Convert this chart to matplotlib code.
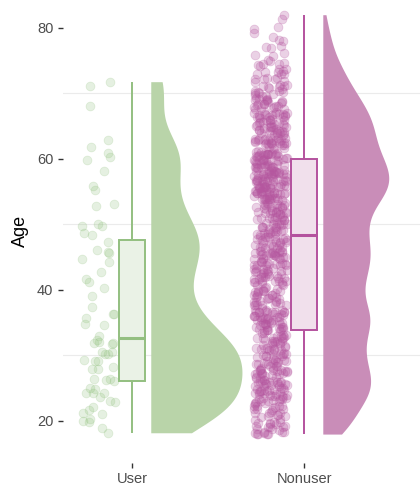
import numpy as np
import matplotlib
matplotlib.use("Agg")
import matplotlib.pyplot as plt

plt.rcParams['font.family'] = ['Liberation Sans', 'DejaVu Sans']

# ---- data -------------------------------------------------------------
groups = ["User", "Nonuser"]

user_age = [
    71.8, 71.2, 68.1, 62.9, 61.8, 60.9, 59.8, 60.3, 58.2, 55.9,
    55.2, 53.2, 52.8, 50.0, 49.8, 49.7, 48.7, 48.4, 47.4, 45.8,
    46.1, 45.7, 44.7, 44.2, 42.7, 41.7, 41.2, 40.3, 39.1, 37.4,
    36.4, 36.4, 35.7, 34.7, 34.8, 32.9, 31.8, 32.1, 32.3, 31.9,
    30.6, 30.2, 29.3, 29.2, 29.1, 30.6, 28.0, 28.2, 26.4, 26.2,
    26.1, 25.1, 24.9, 24.2, 24.2, 23.6, 23.1, 22.9, 22.1, 21.7,
    21.1, 21.2, 20.3, 19.8, 20.0, 18.2, 18.9,
    28.0, 30.2, 24.2, 26.4, 31.9,
]

nonuser_ages = list(range(18, 83))
nonuser_counts = [
    9, 8, 8, 9, 10, 12, 13, 14, 15,          # 18-26
    14, 13, 12, 11, 11, 11, 12, 13, 14,      # 27-35
    14, 13, 12, 11, 11, 11, 12, 13, 13,      # 36-44
    14, 13, 13, 12, 12, 12, 12, 13, 14,      # 45-53
    16, 18, 20, 20, 20, 18, 17, 16, 15,      # 54-62
    15, 15, 14, 13, 13, 12, 11, 10, 8,       # 63-71
    7, 6, 5, 4, 3, 3, 2, 2, 2, 1, 1,         # 72-82
]

colors = {
    "User":    dict(point="#8cbf78", slab="#b9d4a9", line="#93bf80", box="#eaf2e6"),
    "Nonuser": dict(point="#b5569f", slab="#c98db8", line="#b4529e", box="#f1e0ec"),
}
point_alpha = {"User": 0.22, "Nonuser": 0.27}
bandwidth = {"User": 3.4, "Nonuser": 2.3}

# ---- helpers ----------------------------------------------------------
def spread(n, salt):
    """Deterministic hash-based offsets in [0, 1) used for jittering."""
    i = np.arange(n, dtype=float) + salt
    v = np.sin(i * 12.9898 + salt * 78.233) * 43758.5453
    return v - np.floor(v)


def kde(values, bw, grid):
    z = (grid[:, None] - values[None, :]) / bw
    return np.exp(-0.5 * z ** 2).sum(axis=1) / (len(values) * bw * np.sqrt(2 * np.pi))


user = np.array(user_age, dtype=float)
nonuser_int = np.repeat(nonuser_ages, nonuser_counts).astype(float)
nonuser = nonuser_int + (spread(len(nonuser_int), 3.7) - 0.5) * 0.9
nonuser = np.clip(nonuser, 18, 82.3)
data = {"User": user, "Nonuser": nonuser}

# ---- figure -----------------------------------------------------------
fig = plt.figure(figsize=(4.2, 4.88), dpi=100)
ax = fig.add_axes([62.5 / 420, 1 - 462.7 / 488, 1 - 62.5 / 420, 462.7 / 488])
ax.set_xlim(0.596, 2.674)
ax.set_ylim(13.63, 84.27)

for y in (30, 50, 70):
    ax.axhline(y, color="#ebebeb", lw=0.8, zorder=0)

# densities: common scaling across groups
grids, dens = {}, {}
for g in groups:
    v = data[g]
    grids[g] = np.linspace(v.min(), v.max(), 400)
    dens[g] = kde(v, bandwidth[g], grids[g])
scale = 0.53 / max(d.max() for d in dens.values())

slab_offset = 0.109
jit_offset = -0.195
jit_width = 0.097
box_half = 0.078

for i, g in enumerate(groups):
    pos = i + 1
    c = colors[g]
    v = data[g]

    # half-eye slab
    gy = grids[g]
    w = dens[g] * scale
    x0 = pos + slab_offset
    ax.fill_betweenx(gy, x0, x0 + w, color=c["slab"], lw=0, zorder=2)

    # jittered raw points
    jx = pos + jit_offset + (spread(len(v), 1.3 + 5.1 * i) - 0.5) * 2 * jit_width
    ax.scatter(jx, v, s=40, color=c["point"], alpha=point_alpha[g],
               edgecolors=c["point"], linewidths=0.6, zorder=3)

    # box and whiskers
    q1, med, q3 = np.percentile(v, [25, 50, 75])
    iqr = q3 - q1
    lo = v[v >= q1 - 1.5 * iqr].min()
    hi = v[v <= q3 + 1.5 * iqr].max()
    ax.add_patch(plt.Rectangle((pos - box_half, q1), 2 * box_half, q3 - q1,
                               facecolor=c["box"], edgecolor=c["line"],
                               lw=1.4, zorder=4))
    ax.plot([pos, pos], [q3, hi], color=c["line"], lw=1.4, zorder=4,
            solid_capstyle="butt")
    ax.plot([pos, pos], [lo, q1], color=c["line"], lw=1.4, zorder=4,
            solid_capstyle="butt")
    ax.plot([pos - box_half, pos + box_half], [med, med], color=c["line"],
            lw=2.2, zorder=5, solid_capstyle="butt")

# axes styling
for s in ax.spines.values():
    s.set_visible(False)
ax.set_xticks([1, 2])
ax.set_xticklabels(groups)
ax.set_yticks([20, 40, 60, 80])
ax.tick_params(axis="both", length=3.5, width=1.0, color="#333333",
               labelcolor="#4d4d4d", labelsize=10.5, pad=3)
ax.set_ylabel("Age", fontsize=13, color="black", labelpad=6)

fig.savefig("out.png", dpi=100)
